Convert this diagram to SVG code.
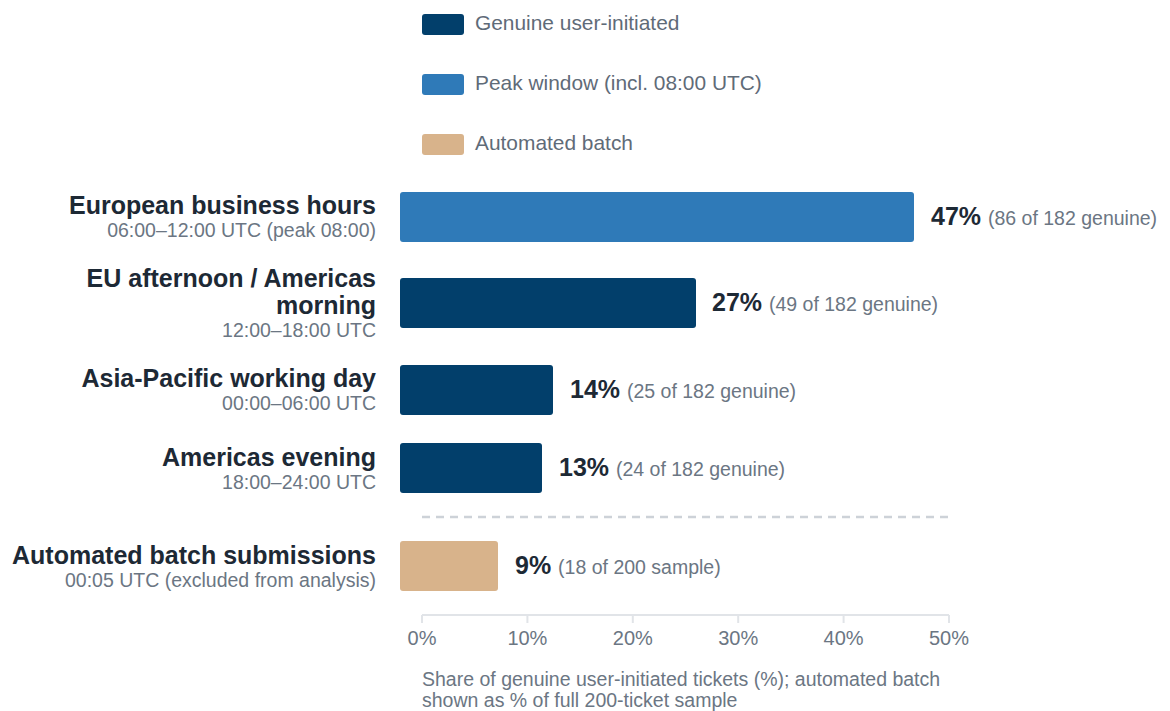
<svg xmlns="http://www.w3.org/2000/svg" width="1170" height="711" viewBox="0 0 1170 711">
<style>
.t{font-family:"Liberation Sans",Arial,sans-serif;font-weight:bold;font-size:25px;fill:#1d2935;text-anchor:end}
.s{font-family:"Liberation Sans",Arial,sans-serif;font-size:19.5px;fill:#6b7683;text-anchor:end}
.lg{font-family:"Liberation Sans",Arial,sans-serif;font-size:20.9px;fill:#5f6b78}
.v{font-family:"Liberation Sans",Arial,sans-serif;font-weight:bold;font-size:25px;fill:#1d2935}
.vd{font-family:"Liberation Sans",Arial,sans-serif;font-size:19.5px;font-weight:normal;fill:#6b7683}
.ax{font-family:"Liberation Sans",Arial,sans-serif;font-size:20px;fill:#6b7683;text-anchor:middle}
.cap{font-family:"Liberation Sans",Arial,sans-serif;font-size:19.5px;fill:#6b7683}
.g{fill:#023f6b}
.p{fill:#2f7ab8}
.b{fill:#d8b38b}
</style>
<g id="legend">
<rect class="g" x="422" y="14" width="42" height="21" rx="3"/>
<text class="lg" x="475" y="30">Genuine user-initiated</text>
<rect class="p" x="422" y="74" width="42" height="21" rx="3"/>
<text class="lg" x="475" y="90">Peak window (incl. 08:00 UTC)</text>
<rect class="b" x="422" y="134" width="42" height="21" rx="3"/>
<text class="lg" x="475" y="150">Automated batch</text>
</g>
<g id="axis">
<path d="M422 615H949M422 615V623M527.4 615V623M632.8 615V623M738.2 615V623M843.6 615V623M949 615V623" stroke="#e1e4e8" stroke-width="2" fill="none"/>
<text class="ax" x="422" y="645">0%</text>
<text class="ax" x="527.4" y="645">10%</text>
<text class="ax" x="632.8" y="645">20%</text>
<text class="ax" x="738.2" y="645">30%</text>
<text class="ax" x="843.6" y="645">40%</text>
<text class="ax" x="949" y="645">50%</text>
<text class="cap" x="422" y="686">Share of genuine user-initiated tickets (%); automated batch</text>
<text class="cap" x="422" y="707">shown as % of full 200-ticket sample</text>
</g>
<g id="separator">
<line x1="422" y1="517" x2="949" y2="517" stroke="#cdd2d8" stroke-width="2.5" stroke-dasharray="8,6"/>
</g>
<g id="row-european">
<text class="t" x="376" y="214">European business hours</text>
<text class="s" x="376" y="237">06:00–12:00 UTC (peak 08:00)</text>
<rect class="p" x="400" y="192" width="514" height="50" rx="3"/>
<text class="v" x="931" y="225">47% <tspan class="vd">(86 of 182 genuine)</tspan></text>
</g>
<g id="row-eu-afternoon">
<text class="t" x="376" y="287">EU afternoon / Americas</text>
<text class="t" x="376" y="314">morning</text>
<text class="s" x="376" y="337">12:00–18:00 UTC</text>
<rect class="g" x="400" y="278" width="296" height="50" rx="3"/>
<text class="v" x="712" y="311">27% <tspan class="vd">(49 of 182 genuine)</tspan></text>
</g>
<g id="row-apac">
<text class="t" x="376" y="387">Asia-Pacific working day</text>
<text class="s" x="376" y="410">00:00–06:00 UTC</text>
<rect class="g" x="400" y="365" width="153" height="50" rx="3"/>
<text class="v" x="570" y="398">14% <tspan class="vd">(25 of 182 genuine)</tspan></text>
</g>
<g id="row-americas">
<text class="t" x="376" y="466">Americas evening</text>
<text class="s" x="376" y="489">18:00–24:00 UTC</text>
<rect class="g" x="400" y="443" width="142" height="50" rx="3"/>
<text class="v" x="559" y="476">13% <tspan class="vd">(24 of 182 genuine)</tspan></text>
</g>
<g id="row-batch">
<text class="t" x="376" y="564">Automated batch submissions</text>
<text class="s" x="376" y="587">00:05 UTC (excluded from analysis)</text>
<rect class="b" x="400" y="541" width="98" height="50" rx="3"/>
<text class="v" x="515" y="574">9% <tspan class="vd">(18 of 200 sample)</tspan></text>
</g>
<g id="connectors"/>
</svg>
